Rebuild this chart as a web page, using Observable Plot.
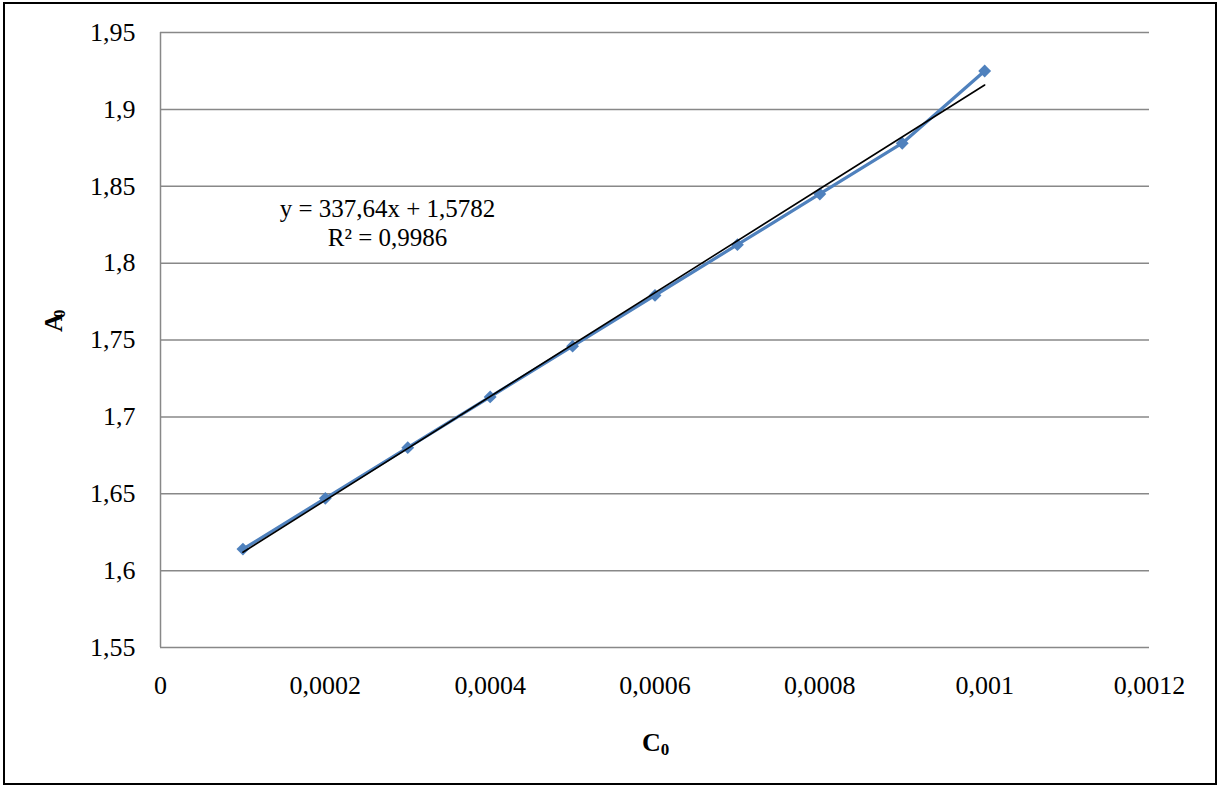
<!DOCTYPE html>
<html>
<head>
<meta charset="utf-8">
<script src="https://cdn.jsdelivr.net/npm/d3@7"></script>
<script src="https://cdn.jsdelivr.net/npm/@observablehq/plot@0.6"></script>
<style>
  html, body { margin: 0; padding: 0; background: #fff; }
  #wrap { position: relative; width: 1228px; height: 785px; }
  #border { position: absolute; left: 3px; top: 2px; width: 1210px; height: 779px; border: 2px solid #000; pointer-events: none; }
</style>
</head>
<body>
<div id="wrap"><div id="border"></div></div>
<script>
const concentrations = [0.0001, 0.0002, 0.0003, 0.0004, 0.0005, 0.0006, 0.0007, 0.0008, 0.0009, 0.001];
const absorbances = [1.614, 1.647, 1.680, 1.713, 1.746, 1.779, 1.812, 1.845, 1.878, 1.925];
const xTicks = [0, 0.0002, 0.0004, 0.0006, 0.0008, 0.001, 0.0012];
const yTicks = [1.55, 1.6, 1.65, 1.7, 1.75, 1.8, 1.85, 1.9, 1.95];
const trendSlope = [337.64];
const trendIntercept = [1.5782];
const equationLines = ["y = 337,64x + 1,5782", "R² = 0,9986"];
const xLabel = ["C", "0"];
const yLabel = ["A", "0"];

const points = concentrations.map((c, i) => ({x: c, y: absorbances[i]}));
const trendX = [concentrations[0], concentrations[concentrations.length - 1]];
const trend = trendX.map(x => ({x, y: trendSlope[0] * x + trendIntercept[0]}));
const fmt = d => String(d).replace(".", ",");
const serif = "'Liberation Serif', 'Times New Roman', serif";

const chart = Plot.plot({
  width: 1228,
  height: 785,
  marginLeft: 160,
  marginRight: 79,
  marginTop: 32,
  marginBottom: 138,
  style: {fontFamily: serif, fontSize: "26px", color: "#000", background: "transparent"},
  x: {domain: [0, 0.0012], ticks: xTicks, tickFormat: fmt, label: null},
  y: {domain: [1.55, 1.95], ticks: yTicks, tickFormat: fmt, label: null},
  marks: [
    Plot.gridY(yTicks, {stroke: "#888", strokeOpacity: 1, strokeWidth: 1.5}),
    Plot.ruleX([0], {stroke: "#888", strokeWidth: 1.5}),
    Plot.axisY(yTicks, {tickSize: 0, tickPadding: 25, tickFormat: fmt, fontSize: 26, label: null}),
    Plot.axisX(xTicks, {tickSize: 0, tickPadding: 28, tickFormat: fmt, fontSize: 26, label: null}),
    Plot.line(points, {x: "x", y: "y", stroke: "#4F81BD", strokeWidth: 3.2}),
    Plot.dot(points, {x: "x", y: "y", symbol: "diamond2", r: 5.8, fill: "#4F81BD", stroke: "none"}),
    Plot.line(trend, {x: "x", y: "y", stroke: "#000", strokeWidth: 1.6}),
    Plot.text([equationLines.join("\n")], {frameAnchor: "top-left", dx: 227, dy: 190, text: d => d, textAnchor: "middle", lineAnchor: "middle", lineHeight: 1.15, fontSize: 25, fill: "#000"}),
    Plot.text([xLabel[0]], {frameAnchor: "bottom", dx: -3.5, dy: 103, text: d => d, fontSize: 26, fontWeight: "bold", lineAnchor: "bottom", fill: "#000"}),
    Plot.text([xLabel[1]], {frameAnchor: "bottom", dx: 10, dy: 107, text: d => d, fontSize: 17, fontWeight: "bold", lineAnchor: "bottom", fill: "#000"}),
    Plot.text([yLabel[0]], {frameAnchor: "left", dx: -107, dy: -8, text: d => d, rotate: -90, fontSize: 26, fontWeight: "bold", fill: "#000"}),
    Plot.text([yLabel[1]], {frameAnchor: "left", dx: -101, dy: -22, text: d => d, rotate: -90, fontSize: 17, fontWeight: "bold", fill: "#000"})
  ]
});
document.getElementById("wrap").appendChild(chart);
</script>
</body>
</html>
